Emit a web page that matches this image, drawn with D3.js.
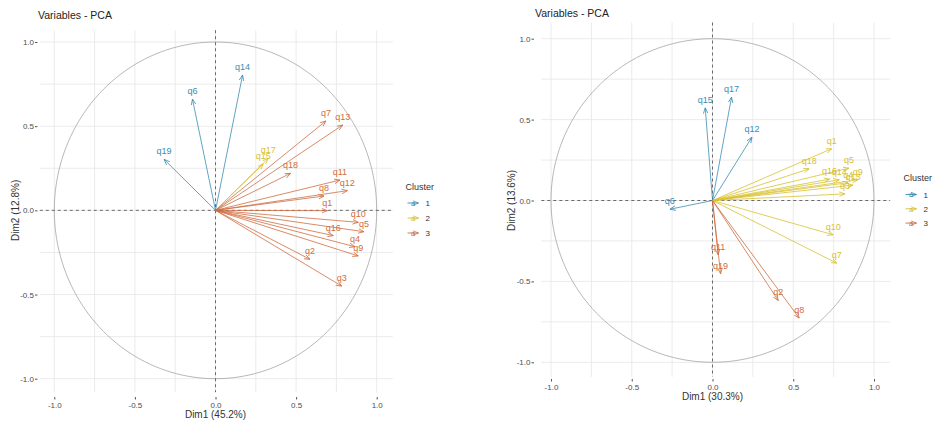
<!DOCTYPE html>
<html>
<head>
<meta charset="utf-8">
<script src="https://cdn.jsdelivr.net/npm/d3@7"></script>
<style>
  html, body { margin: 0; padding: 0; background: #ffffff; }
  svg { display: block; font-family: "Liberation Sans", Arial, sans-serif; }
</style>
</head>
<body>
<svg id="chart" width="935" height="422"></svg>
<script>
// ---- Left panel: variable coordinates (Dim1 45.2%, Dim2 12.8%) ----
const leftNames   = ["q14", "q6", "q19", "q15", "q17", "q7", "q13", "q18", "q11", "q12", "q8", "q1", "q10", "q5", "q16", "q4", "q9", "q2", "q3"];
const leftDim1    = [0.168, -0.143, -0.319, 0.296, 0.327, 0.685, 0.789, 0.466, 0.772, 0.818, 0.673, 0.694, 0.886, 0.921, 0.731, 0.865, 0.886, 0.586, 0.783];
const leftDim2    = [0.804, 0.661, 0.303, 0.275, 0.309, 0.531, 0.507, 0.220, 0.180, 0.117, 0.085, -0.002, -0.071, -0.127, -0.150, -0.216, -0.271, -0.291, -0.450];
const leftCluster = [1, 1, 1, 2, 2, 3, 3, 3, 3, 3, 3, 3, 3, 3, 3, 3, 3, 3, 3];

// ---- Right panel: variable coordinates (Dim1 30.3%, Dim2 13.6%) ----
const rightNames   = ["q17", "q15", "q12", "q6", "q1", "q18", "q5", "q9", "q16", "q14", "q4", "q13", "q3", "q10", "q7", "q11", "q19", "q2", "q8"];
const rightDim1    = [0.118, -0.045, 0.244, -0.264, 0.738, 0.599, 0.845, 0.900, 0.725, 0.785, 0.840, 0.870, 0.820, 0.748, 0.769, 0.035, 0.050, 0.407, 0.537];
const rightDim2    = [0.639, 0.573, 0.391, -0.054, 0.320, 0.196, 0.200, 0.128, 0.132, 0.128, 0.110, 0.095, 0.041, -0.212, -0.387, -0.336, -0.453, -0.618, -0.727];
const rightCluster = [1, 1, 1, 1, 2, 2, 2, 2, 2, 2, 2, 2, 2, 2, 2, 3, 3, 3, 3];

// ---- Shared labels ----
const tickValues   = [-1, -0.5, 0, 0.5, 1];
const tickLabels   = ["-1.0", "-0.5", "0.0", "0.5", "1.0"];
const gridValues   = [-1, -0.75, -0.5, -0.25, 0, 0.25, 0.5, 0.75, 1];
const clusterKeys  = [1, 2, 3];
const clusterColors = ["#3b8db4", "#d8c12e", "#cf6d42"];
const titleText    = "Variables - PCA";
const xTitles      = ["Dim1 (45.2%)", "Dim1 (30.3%)"];
const yTitles      = ["Dim2 (12.8%)", "Dim2 (13.6%)"];
const legendTitle  = "Cluster";

const svg = d3.select("#chart");
const color = d3.scaleOrdinal().domain(clusterKeys).range(clusterColors);

// Open arrowhead markers, one per cluster colour
const defs = svg.append("defs");
clusterKeys.forEach(k => {
  defs.append("marker")
    .attr("id", "arrow" + k)
    .attr("viewBox", "0 0 10 10")
    .attr("refX", 9.5).attr("refY", 5)
    .attr("markerWidth", 6).attr("markerHeight", 6)
    .attr("markerUnits", "userSpaceOnUse")
    .attr("orient", "auto")
    .append("path")
    .attr("d", "M0,1.2 L9.5,5 L0,8.8")
    .attr("fill", "none")
    .attr("stroke", color(k))
    .attr("stroke-width", 1.3);
});

function drawPanel(cfg) {
  const g = svg.append("g");
  const x = d3.scaleLinear().domain([-1, 1]).range(cfg.xRange);
  const y = d3.scaleLinear().domain([-1, 1]).range(cfg.yRange);

  // grid lines (major and minor)
  g.append("g").selectAll("line.v").data(gridValues).join("line")
    .attr("x1", d => x(d)).attr("x2", d => x(d))
    .attr("y1", y(cfg.yExt[1])).attr("y2", y(cfg.yExt[0]))
    .attr("stroke", "#e6e6e6").attr("stroke-width", 0.8);
  g.append("g").selectAll("line.h").data(gridValues).join("line")
    .attr("y1", d => y(d)).attr("y2", d => y(d))
    .attr("x1", x(cfg.xExt[0])).attr("x2", x(cfg.xExt[1]))
    .attr("stroke", "#e6e6e6").attr("stroke-width", 0.8);

  // correlation circle
  const angles = d3.range(0, 361, 2);
  g.append("path")
    .datum(angles)
    .attr("d", d3.line()
      .x(a => x(Math.cos(a * Math.PI / 180)))
      .y(a => y(Math.sin(a * Math.PI / 180))))
    .attr("fill", "none").attr("stroke", "#9a9a9a").attr("stroke-width", 0.7);

  // dashed reference axes
  g.append("line")
    .attr("x1", x(cfg.xExt[0])).attr("x2", x(cfg.xExt[1]))
    .attr("y1", y(0)).attr("y2", y(0))
    .attr("stroke", "#6a6a6a").attr("stroke-width", 1).attr("stroke-dasharray", "3,3");
  g.append("line")
    .attr("x1", x(0)).attr("x2", x(0))
    .attr("y1", y(cfg.yExt[1])).attr("y2", y(cfg.yExt[0]))
    .attr("stroke", "#6a6a6a").attr("stroke-width", 1).attr("stroke-dasharray", "3,3");

  // axes
  const yAxis = d3.axisLeft(y).tickValues(tickValues).tickSize(2.5)
    .tickFormat((d, i) => tickLabels[i]);
  const xAxis = d3.axisBottom(x).tickValues(tickValues).tickSize(2.5)
    .tickFormat((d, i) => tickLabels[i]);
  const ya = g.append("g").attr("transform", `translate(${cfg.yAxisX},0)`).call(yAxis);
  const xa = g.append("g").attr("transform", `translate(0,${cfg.xAxisY})`).call(xAxis);
  [ya, xa].forEach(a => {
    a.select(".domain").remove();
    a.selectAll(".tick line").attr("stroke", "#555");
    a.selectAll(".tick text").attr("fill", "#4d4d4d").style("font-size", "8px")
      .style("font-family", "'Liberation Sans', Arial, sans-serif");
  });
  ya.selectAll(".tick text").attr("x", -3.5);
  xa.selectAll(".tick text").attr("y", 5);

  // variable arrows
  const data = cfg.names.map((n, i) => ({ name: n, d1: cfg.dim1[i], d2: cfg.dim2[i], c: cfg.cluster[i] }));
  g.append("g").selectAll("line").data(data).join("line")
    .attr("x1", x(0)).attr("y1", y(0))
    .attr("x2", d => x(d.d1)).attr("y2", d => y(d.d2))
    .attr("stroke", d => color(d.c)).attr("stroke-width", 0.8)
    .attr("marker-end", d => `url(#arrow${d.c})`);

  g.append("g").selectAll("text").data(data).join("text")
    .attr("x", d => x(d.d1)).attr("y", d => y(d.d2) - 5)
    .attr("text-anchor", "middle")
    .attr("fill", d => color(d.c))
    .style("font-size", "9px")
    .text(d => d.name);

  // titles
  svg.append("text").attr("x", cfg.titleX).attr("y", cfg.titleY)
    .attr("fill", "#222").style("font-size", "10.5px").text(titleText);
  svg.append("text").attr("x", x(0)).attr("y", cfg.xTitleY)
    .attr("text-anchor", "middle").attr("fill", "#333").style("font-size", "10px")
    .text(cfg.xTitle);
  svg.append("text")
    .attr("transform", `translate(${cfg.yTitleX},${y(0)}) rotate(-90)`)
    .attr("text-anchor", "middle").attr("fill", "#333").style("font-size", "10px")
    .text(cfg.yTitle);

  // legend
  const lg = svg.append("g").attr("transform", `translate(${cfg.legendX},${cfg.legendY})`);
  lg.append("text").attr("x", 0).attr("y", 3.5).attr("fill", "#333")
    .style("font-size", "9px").text(legendTitle);
  clusterKeys.forEach((k, i) => {
    const ky = 17 + i * cfg.legendStep;
    lg.append("line").attr("x1", 2).attr("x2", 13).attr("y1", ky).attr("y2", ky)
      .attr("stroke", color(k)).attr("stroke-width", 0.9)
      .attr("marker-end", `url(#arrow${k})`);
    lg.append("text").attr("x", 7.5).attr("y", ky + 2.8).attr("text-anchor", "middle")
      .attr("fill", color(k)).style("font-size", "7.5px").text("a");
    lg.append("text").attr("x", 20).attr("y", ky + 3).attr("fill", "#333")
      .style("font-size", "8px").text(k);
  });
}

drawPanel({
  names: leftNames, dim1: leftDim1, dim2: leftDim2, cluster: leftCluster,
  xRange: [54.3, 376.7], yRange: [378.7, 42],
  xExt: [-1.09, 1.10], yExt: [-1.08, 1.07],
  yAxisX: 37.5, xAxisY: 397,
  titleX: 38, titleY: 18.5, xTitleY: 418, yTitleX: 18.5, xTitle: xTitles[0], yTitle: yTitles[0],
  legendX: 405.5, legendY: 186, legendStep: 15
});

drawPanel({
  names: rightNames, dim1: rightDim1, dim2: rightDim2, cluster: rightCluster,
  xRange: [551, 874], yRange: [362.3, 38.7],
  xExt: [-1.06, 1.10], yExt: [-1.09, 1.10],
  yAxisX: 534, xAxisY: 379,
  titleX: 535, titleY: 17, xTitleY: 400, yTitleX: 515, xTitle: xTitles[1], yTitle: yTitles[1],
  legendX: 903.5, legendY: 177.5, legendStep: 14.3
});
</script>
</body>
</html>
